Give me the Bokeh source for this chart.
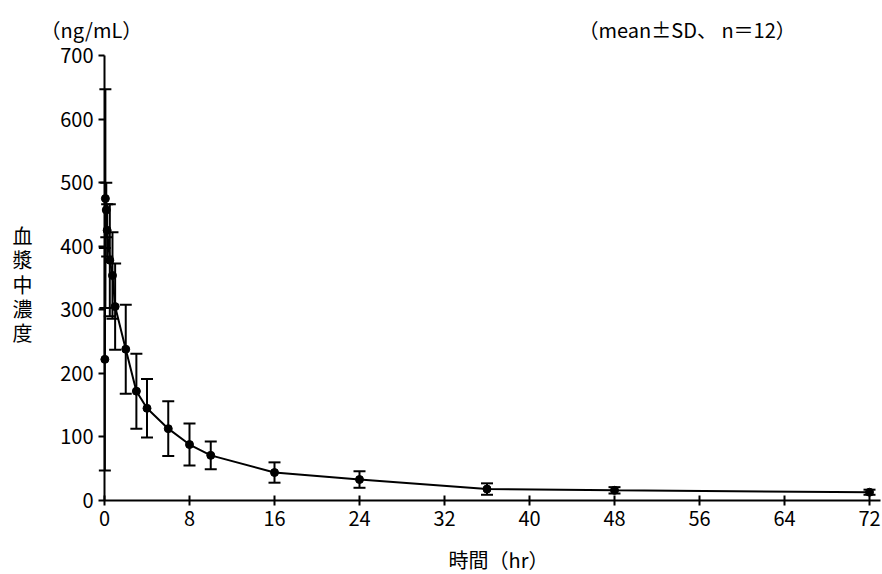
from bokeh.plotting import figure
from bokeh.models import ColumnDataSource, Whisker, TeeHead, Label, Range1d, FixedTicker
from bokeh.embed import file_html
from bokeh.resources import INLINE

# --- data ---
time_hr = [0.033, 0.083, 0.167, 0.25, 0.5, 0.75, 1, 2, 3, 4, 6, 8, 10, 16, 24, 36, 48, 72]
mean_conc = [222, 475, 457, 425, 378, 354, 305, 238, 172, 145, 113, 88, 71, 44, 33, 18, 16, 13]
sd_conc = [175, 172, 43, 41, 88, 68, 68, 70, 59, 46, 43, 33, 22, 16, 13, 9, 5, 4]
x_ticks = [0, 8, 16, 24, 32, 40, 48, 56, 64, 72]
y_ticks = [0, 100, 200, 300, 400, 500, 600, 700]

FONT = "Noto Sans CJK JP"
W, H = 882, 574
X0_PX, PX_PER_HR = 104, 10.625          # page x of t=0, pixels per hour
Y0_PX, PX_PER_UNIT = 500, 445 / 700     # page y of 0 ng/mL, pixels per ng/mL


def xd(px):
    return (px - X0_PX) / PX_PER_HR


def yd(py):
    return (Y0_PX - py) / PX_PER_UNIT


src = ColumnDataSource(dict(
    t=time_hr,
    m=mean_conc,
    upper=[m + s for m, s in zip(mean_conc, sd_conc)],
    lower=[m - s for m, s in zip(mean_conc, sd_conc)],
))

p = figure(width=W, height=H, output_backend="svg", toolbar_location=None,
           x_range=Range1d(xd(0), xd(W)), y_range=Range1d(yd(H), yd(0)),
           min_border=0, min_border_left=0, min_border_right=0,
           min_border_top=0, min_border_bottom=0)
p.outline_line_color = None
p.xgrid.visible = False
p.ygrid.visible = False
p.background_fill_color = "white"
p.border_fill_color = "white"

for ax in (p.xaxis[0], p.yaxis[0]):
    ax.fixed_location = 0
    ax.axis_line_width = 2
    ax.axis_line_color = "black"
    ax.major_tick_line_width = 2
    ax.major_tick_line_color = "black"
    ax.minor_tick_line_color = None
    ax.major_label_text_font = FONT
    ax.major_label_text_font_size = "20px"
    ax.major_label_text_color = "black"
    ax.major_label_standoff = 5

p.xaxis.ticker = FixedTicker(ticks=x_ticks)
p.xaxis.bounds = (0, xd(880))
p.xaxis.major_tick_in = 5
p.xaxis.major_tick_out = 5

p.yaxis.ticker = FixedTicker(ticks=y_ticks)
p.yaxis.bounds = (0, 700)
p.yaxis.major_tick_in = 0
p.yaxis.major_tick_out = 6

# error bars
wh = Whisker(base="t", upper="upper", lower="lower", source=src,
             line_width=2, line_color="black",
             upper_head=TeeHead(size=12, line_width=2, line_color="black"),
             lower_head=TeeHead(size=12, line_width=2, line_color="black"))
p.add_layout(wh)

p.line("t", "m", source=src, line_width=2, line_color="black")
p.scatter("t", "m", source=src, size=8, color="black")


def lab(x, y, text, align="left"):
    p.add_layout(Label(x=x, y=y, text=text,
                       text_font=FONT, text_font_size="20px",
                       text_color="black", text_align=align, text_baseline="middle"))


lab(xd(40), yd(29), "（ng/mL）")
lab(xd(578), yd(29), "（mean±SD、 n＝12）")
for ch, py in zip("血漿中濃度", [235, 259, 283.5, 308, 332]):
    lab(xd(22), yd(py), ch, align="center")
lab(xd(498), yd(559), "時間（hr）", align="center")

open("out.html", "w").write(file_html(p, INLINE))
